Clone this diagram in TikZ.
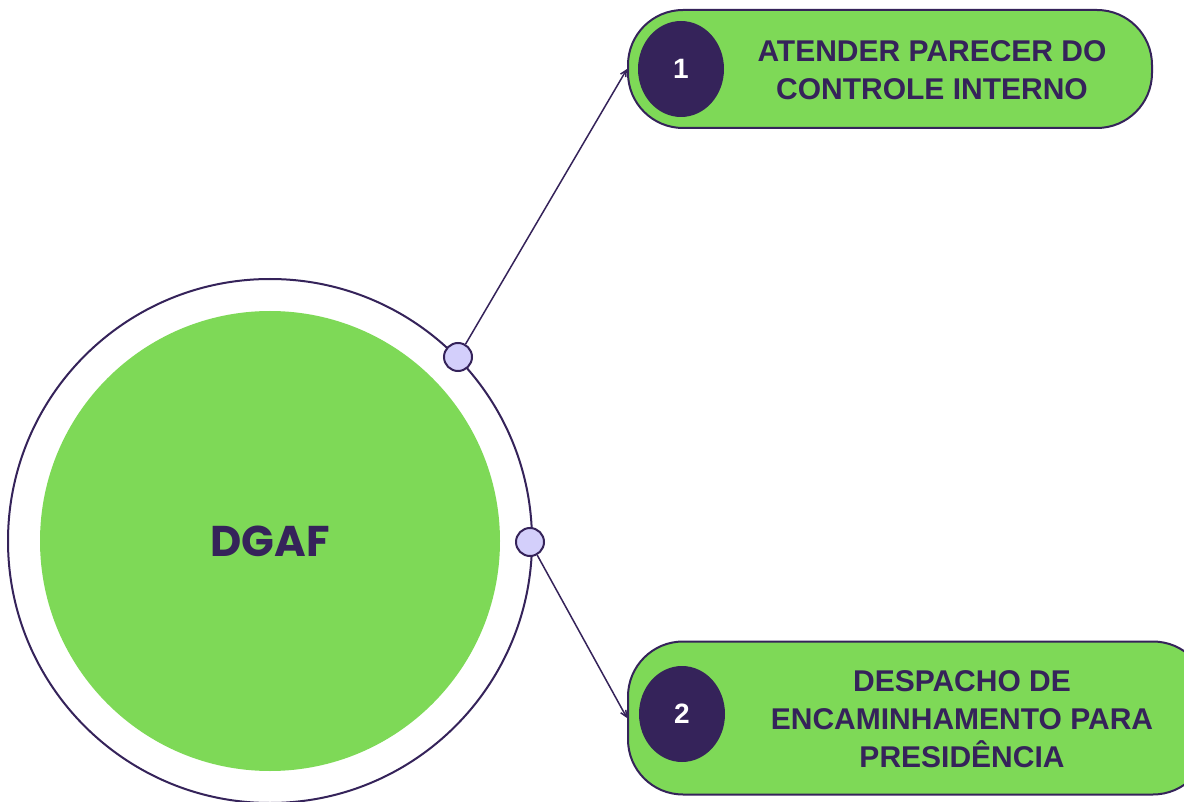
\documentclass[tikz,border=0pt]{standalone}
\usepackage{fontspec}
\setmainfont{Poppins}
\newfontfamily\labelfont{Liberation Sans}
\usetikzlibrary{arrows.meta,shapes.geometric}
\definecolor{leaf}{HTML}{7ED957}
\definecolor{ink}{HTML}{35235A}
\definecolor{lilac}{HTML}{D3CFFB}
\tikzset{
  pill/.style={draw=ink, line width=2pt, fill=leaf, rounded corners=55pt, inner sep=0pt},
  badge/.style={ellipse, fill=ink, minimum width=86pt, minimum height=96pt, inner sep=0pt,
    text=white, font=\labelfont\fontsize{28}{30}\selectfont\bfseries},
  pilltext/.style={text=ink, align=center, font=\labelfont\fontsize{30}{38}\selectfont\bfseries},
  knob/.style={circle, draw=ink, line width=2pt, fill=lilac, minimum size=28pt, inner sep=0pt},
  link/.style={draw=ink, line width=1.5pt, -{Straight Barb[length=6pt,width=6pt]}},
}
\begin{document}
\begin{tikzpicture}[x=1pt,y=-1pt]
  \clip (0,0) rectangle (1184,802);
  \fill[white] (0,0) rectangle (1184,802);

  % central hub
  \node[circle, draw=ink, line width=2pt, minimum size=524pt, inner sep=0pt] (ring) at (270,541) {};
  \node[circle, fill=leaf, minimum size=460pt, inner sep=0pt] (hub) at (270,541)
    {\fontsize{43}{50}\selectfont\bfseries\color{ink}DGAF};

  % step 1
  \node[pill, minimum width=524pt, minimum height=118pt] (p1) at (890,69) {};
  \node[badge] (b1) at (681,69) {1};
  \node[pilltext] (t1) at (932,70) {ATENDER PARECER DO\\CONTROLE INTERNO};

  % step 2
  \node[pill, minimum width=580pt, minimum height=153pt] (p2) at (918,718) {};
  \node[badge] (b2) at (682,714) {2};
  \node[pilltext] (t2) at (962,719) {DESPACHO DE\\ENCAMINHAMENTO PARA\\PRESIDÊNCIA};

  % connectors
  \node[knob] (k1) at (458,357) {};
  \node[knob] (k2) at (530,542) {};
  \draw[link] (k1) -- (p1.west);
  \draw[link] (k2) -- (p2.west);
\end{tikzpicture}
\end{document}
